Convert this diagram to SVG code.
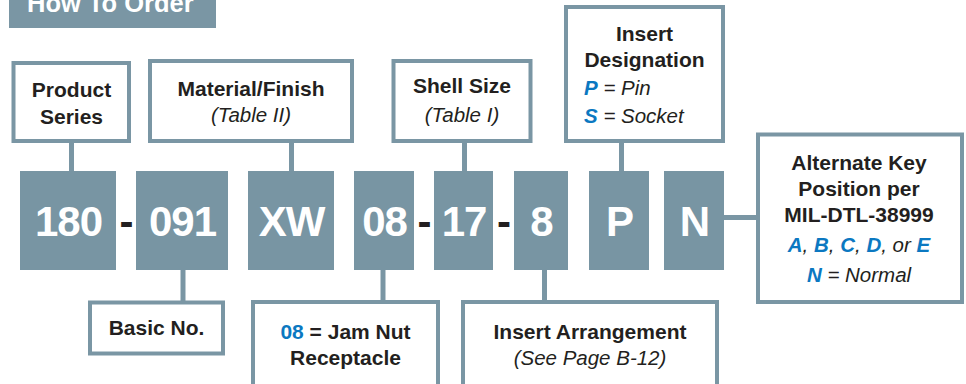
<svg xmlns="http://www.w3.org/2000/svg" width="966" height="384" viewBox="0 0 966 384">
<style>
.box{fill:#ffffff;stroke:#7a96a4;stroke-width:4}
.code{fill:#7895a3}
.conn{stroke:#7a96a4;stroke-width:5;fill:none}
.t{font-family:"Liberation Sans",Arial,sans-serif;font-size:21px;fill:#231f20;text-anchor:middle}
.s{text-anchor:start}
.b{font-weight:bold}
.i{font-style:italic;font-size:20.5px}
.blue{fill:#0b78c1}
.ct{font-family:"Liberation Sans",Arial,sans-serif;font-size:42px;font-weight:bold;fill:#ffffff;text-anchor:middle;letter-spacing:-1px}
.dash{font-family:"Liberation Sans",Arial,sans-serif;font-size:42px;font-weight:bold;fill:#231f20;text-anchor:middle}
</style>
<rect width="966" height="384" fill="#ffffff"/>
<g id="title">
<rect x="9" y="0" width="207" height="28" fill="#7a96a4"/>
<text x="27" y="12" font-family="Liberation Sans,Arial,sans-serif" font-size="25.5" font-weight="bold" fill="#ffffff">How To Order</text>
</g>
<g id="connectors">
<line class="conn" x1="71.5" y1="141" x2="71.5" y2="172"/>
<line class="conn" x1="291.5" y1="141" x2="291.5" y2="172"/>
<line class="conn" x1="464.5" y1="141" x2="464.5" y2="172"/>
<line class="conn" x1="621.5" y1="141" x2="621.5" y2="172"/>
<line class="conn" x1="183" y1="269" x2="183" y2="302"/>
<line class="conn" x1="383" y1="269" x2="383" y2="302"/>
<line class="conn" x1="544.5" y1="269" x2="544.5" y2="302"/>
<line class="conn" x1="723" y1="217.5" x2="758" y2="217.5"/>
</g>
<g id="product-series">
<rect class="box" x="13.5" y="63" width="115.5" height="78"/>
<text class="t b" x="71.5" y="97">Product</text>
<text class="t b" x="71.5" y="124">Series</text>
</g>
<g id="material-finish">
<rect class="box" x="150" y="61" width="202" height="80"/>
<text class="t b" x="251" y="96">Material/Finish</text>
<text class="t i" x="251" y="122">(Table II)</text>
</g>
<g id="shell-size">
<rect class="box" x="393.5" y="61" width="137" height="80"/>
<text class="t b" x="462" y="93">Shell Size</text>
<text class="t i" x="462" y="122">(Table I)</text>
</g>
<g id="insert-designation">
<rect class="box" x="566" y="7" width="157" height="134"/>
<text class="t b" x="644.5" y="40.5">Insert</text>
<text class="t b" x="644.5" y="66.5">Designation</text>
<text class="t i s" x="584" y="95"><tspan class="b blue">P</tspan> = Pin</text>
<text class="t i s" x="584" y="123"><tspan class="b blue">S</tspan> = Socket</text>
</g>
<g id="alternate-key">
<rect class="box" x="758" y="134.5" width="204" height="167.5"/>
<text class="t b" x="859" y="170">Alternate Key</text>
<text class="t b" x="859" y="196">Position per</text>
<text class="t b" x="859" y="222">MIL-DTL-38999</text>
<text class="t i" x="859" y="251.5"><tspan class="b blue">A</tspan>, <tspan class="b blue">B</tspan>, <tspan class="b blue">C</tspan>, <tspan class="b blue">D</tspan>, or <tspan class="b blue">E</tspan></text>
<text class="t i" x="859" y="281.5"><tspan class="b blue">N</tspan> = Normal</text>
</g>
<g id="basic-no">
<rect class="box" x="90" y="302.5" width="133" height="51"/>
<text class="t b" x="156.5" y="335">Basic No.</text>
</g>
<g id="jam-nut">
<rect class="box" x="253" y="302" width="185" height="100"/>
<text class="t b" x="345.5" y="339"><tspan class="blue">08</tspan> = Jam Nut</text>
<text class="t b" x="345.5" y="365">Receptacle</text>
</g>
<g id="insert-arrangement">
<rect class="box" x="463" y="302" width="254" height="100"/>
<text class="t b" x="590" y="338.5">Insert Arrangement</text>
<text class="t i" x="590" y="365">(See Page B-12)</text>
</g>
<g id="code-180"><rect class="code" x="20" y="171" width="96" height="99"/><text class="ct" x="68.5" y="236">180</text></g>
<g id="code-091"><rect class="code" x="136" y="171" width="92" height="99"/><text class="ct" x="182.5" y="236">091</text></g>
<g id="code-XW"><rect class="code" x="248" y="171" width="86" height="99"/><text class="ct" x="291.5" y="236">XW</text></g>
<g id="code-08"><rect class="code" x="354" y="171" width="60" height="99"/><text class="ct" x="384.5" y="236">08</text></g>
<g id="code-17"><rect class="code" x="434" y="171" width="59" height="99"/><text class="ct" x="464" y="236">17</text></g>
<g id="code-8"><rect class="code" x="514" y="171" width="54" height="99"/><text class="ct" x="541.5" y="236">8</text></g>
<g id="code-P"><rect class="code" x="589" y="171" width="60" height="99"/><text class="ct" x="619.5" y="236">P</text></g>
<g id="code-N"><rect class="code" x="664" y="171" width="60" height="99"/><text class="ct" x="694.5" y="236">N</text></g>
<g id="dashes">
<text class="dash" x="126.5" y="236">-</text>
<text class="dash" x="424.5" y="236">-</text>
<text class="dash" x="504" y="236">-</text>
</g>
</svg>
